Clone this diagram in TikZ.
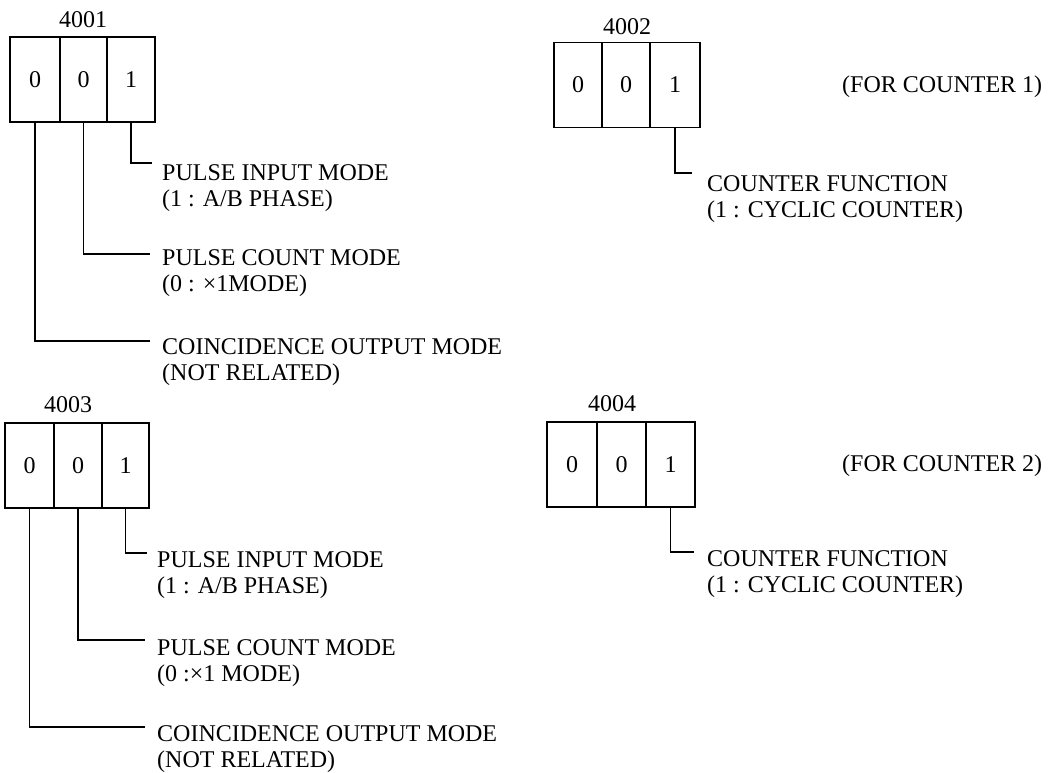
\documentclass[tikz,border=0pt]{standalone}
\usepackage{fontspec}
\setmainfont{Liberation Serif}
\begin{document}
\begin{tikzpicture}[x=1pt,y=-1pt,
  every node/.style={font=\fontsize{24}{26}\selectfont},
  cell/.style={draw,line width=1.4pt,minimum height=85pt,inner sep=0pt,minimum width=#1},
  cell/.default=48pt,
  lab/.style={anchor=north west,align=left,inner sep=0pt},
  reg/.style={inner sep=0pt},
  lead/.style={line width=1.3pt}]
\useasboundingbox (0,0) rectangle (1057,772);
% ---- 4001
\node[reg] (r1) at (83,20) {4001};
\node[cell=50pt] (a1) at (35,79.5) {0};
\node[cell=47pt] (a2) at (83.5,79.5) {0};
\node[cell=48pt] (a3) at (131,79.5) {1};
\coordinate (ea3) at (152,163);
\coordinate (ea2) at (150,254);
\coordinate (ea1) at (150,341);
\draw[lead] (a3.south) |- (ea3);
\draw[lead] (a2.south) |- (ea2);
\draw[lead] (a1.south) |- (ea1);
\node[lab] (ta3) at (162,164) {PULSE INPUT MODE\\(1 : A/B PHASE)};
\node[lab] (ta2) at (162,249) {PULSE COUNT MODE\\(0 : ×1MODE)};
\node[lab] (ta1) at (162,338) {COINCIDENCE OUTPUT MODE\\(NOT RELATED)};
% ---- 4002
\node[reg] (r2) at (627,27) {4002};
\node[cell=48pt] (b1) at (578,85) {0};
\node[cell=48pt] (b2) at (626,85) {0};
\node[cell=50pt] (b3) at (675,85) {1};
\coordinate (eb3) at (692,173);
\draw[lead] (b3.south) |- (eb3);
\node[lab] (tb3) at (707,175) {COUNTER FUNCTION\\(1 : CYCLIC COUNTER)};
\node[reg,anchor=west] (n1) at (842,87) {(FOR COUNTER 1)};
% ---- 4003
\node[reg] (r3) at (68,405) {4003};
\node[cell=49pt] (c1) at (29.5,465.5) {0};
\node[cell=48pt] (c2) at (78,465.5) {0};
\node[cell=47pt] (c3) at (125.5,465.5) {1};
\coordinate (ec3) at (147,553);
\coordinate (ec2) at (145,640);
\coordinate (ec1) at (145,727);
\draw[lead] (c3.south) |- (ec3);
\draw[lead] (c2.south) |- (ec2);
\draw[lead] (c1.south) |- (ec1);
\node[lab] (tc3) at (157,551) {PULSE INPUT MODE\\(1 : A/B PHASE)};
\node[lab] (tc2) at (157,639) {PULSE COUNT MODE\\(0 :×1 MODE)};
\node[lab] (tc1) at (157,725) {COINCIDENCE OUTPUT MODE\\(NOT RELATED)};
% ---- 4004
\node[reg] (r4) at (612,404) {4004};
\node[cell=50pt] (d1) at (572,464.5) {0};
\node[cell=49pt] (d2) at (621.5,464.5) {0};
\node[cell=49pt] (d3) at (670.5,464.5) {1};
\coordinate (ed3) at (694,552);
\draw[lead] (d3.south) |- (ed3);
\node[lab] (td3) at (707,550) {COUNTER FUNCTION\\(1 : CYCLIC COUNTER)};
\node[reg,anchor=west] (n2) at (842,466) {(FOR COUNTER 2)};
\end{tikzpicture}
\end{document}
